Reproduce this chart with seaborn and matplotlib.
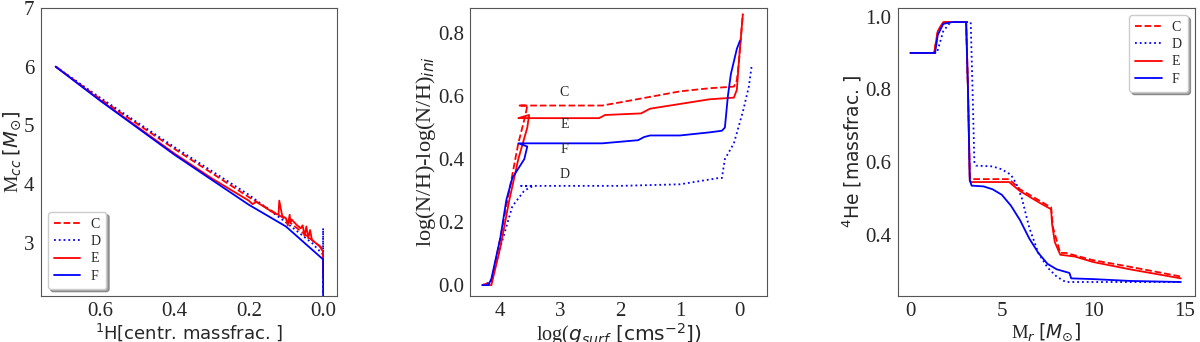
import numpy as np
import matplotlib
matplotlib.use('Agg')
import matplotlib.pyplot as plt
import seaborn as sns

# Panel 1: convective core mass vs central H
h_C = [0.72, 0.6, 0.4, 0.2, 0.1, 0.05, 0.0, 0.0]
m_C = [6.0, 5.45, 4.6, 3.78, 3.4, 3.15, 2.9, 2.5]
h_D = [0.72, 0.6, 0.4, 0.2, 0.1, 0.03, 0.0, 0.0, 0.0]
m_D = [6.0, 5.47, 4.63, 3.82, 3.35, 3.0, 2.8, 3.25, 2.1]
h_E = [0.72, 0.6, 0.4, 0.3, 0.2, 0.19, 0.18, 0.13, 0.12, 0.118, 0.11, 0.1, 0.095, 0.09,
       0.088, 0.085, 0.07, 0.06, 0.055, 0.05, 0.045, 0.04, 0.035, 0.03, 0.02, 0.01, 0.0, 0.0]
m_E = [6.0, 5.43, 4.52, 4.1, 3.72, 3.66, 3.7, 3.5, 3.48, 3.72, 3.46, 3.42, 3.3, 3.48,
       3.35, 3.4, 3.3, 3.25, 3.3, 3.12, 3.28, 3.08, 3.22, 3.05, 3.0, 2.95, 2.85, 2.4]
h_F = [0.72, 0.6, 0.4, 0.2, 0.1, 0.05, 0.0, 0.0]
m_F = [6.0, 5.42, 4.5, 3.65, 3.28, 3.0, 2.72, 2.1]

# Panel 2: N/H enrichment vs log g
g_C = [4.3, 4.15, 4.0, 3.85, 3.7, 3.58, 3.55, 3.7, 2.3, 2.0, 1.0, 0.5, 0.1, 0.05, 0.02, -0.05]
n_C = [0.0, 0.01, 0.15, 0.3, 0.45, 0.54, 0.57, 0.57, 0.57, 0.58, 0.615, 0.625, 0.63, 0.65, 0.7, 0.86]
g_D = [4.3, 4.15, 4.0, 3.8, 3.6, 3.45, 3.65, 2.0, 1.0, 0.35, 0.3, 0.25, 0.1, -0.05, -0.15, -0.2]
n_D = [0.0, 0.01, 0.12, 0.25, 0.3, 0.315, 0.315, 0.315, 0.32, 0.34, 0.34, 0.4, 0.45, 0.55, 0.63, 0.7]
g_E = [4.3, 4.15, 4.0, 3.85, 3.7, 3.55, 3.52, 3.7, 2.35, 2.25, 1.65, 1.5, 1.0, 0.5, 0.1, 0.05, 0.02, 0.0, -0.05]
n_E = [0.0, 0.0, 0.12, 0.27, 0.4, 0.5, 0.54, 0.53, 0.53, 0.54, 0.545, 0.56, 0.575, 0.59, 0.595, 0.62, 0.7, 0.75, 0.86]
g_F = [4.3, 4.2, 4.15, 4.0, 3.9, 3.8, 3.6, 3.55, 3.7, 2.3, 1.7, 1.6, 1.5, 1.0, 0.5, 0.3, 0.25, 0.2, 0.15, 0.05, 0.0]
n_F = [0.0, 0.0, 0.02, 0.15, 0.27, 0.34, 0.4, 0.44, 0.45, 0.45, 0.46, 0.47, 0.475, 0.475, 0.485, 0.49, 0.5, 0.6, 0.67, 0.75, 0.775]

# Panel 3: He4 profile vs mass coordinate
r_C = [0, 1.3, 1.5, 1.8, 3.05, 3.15, 3.25, 3.3, 5.4, 6.0, 7.7, 7.8, 8.2, 8.5, 10, 12, 14.8]
he_C = [0.9, 0.9, 0.96, 0.985, 0.985, 0.8, 0.56, 0.553, 0.553, 0.525, 0.475, 0.42, 0.35, 0.35, 0.33, 0.312, 0.285]
r_D = [0, 1.45, 1.8, 2.2, 3.3, 3.4, 3.5, 3.6, 4.5, 5.0, 5.5, 5.8, 6.1, 6.5, 7.0, 7.5, 8.0, 8.5, 14.8]
he_D = [0.9, 0.9, 0.96, 0.985, 0.985, 0.8, 0.6, 0.59, 0.588, 0.58, 0.565, 0.54, 0.5, 0.42, 0.35, 0.31, 0.285, 0.27, 0.27]
r_E = [0, 1.3, 1.5, 1.8, 3.05, 3.15, 3.25, 3.3, 5.4, 6.0, 7.0, 7.7, 7.75, 7.9, 8.2, 9, 10, 12, 14.8]
he_E = [0.9, 0.9, 0.96, 0.985, 0.985, 0.8, 0.55, 0.545, 0.545, 0.52, 0.49, 0.47, 0.43, 0.38, 0.345, 0.34, 0.325, 0.305, 0.28]
r_F = [0, 1.35, 1.5, 1.8, 2.3, 3.05, 3.15, 3.25, 3.35, 4.0, 4.5, 5.0, 5.5, 6.0, 6.5, 7.0, 7.5, 8.0, 8.7, 8.8, 10, 12, 14.8]
he_F = [0.9, 0.9, 0.95, 0.98, 0.985, 0.985, 0.8, 0.55, 0.535, 0.533, 0.525, 0.51, 0.48, 0.44, 0.39, 0.35, 0.32, 0.305, 0.295, 0.28, 0.278, 0.273, 0.27]

models = ['C', 'D', 'E', 'F']
colors = {'C': 'red', 'D': 'blue', 'E': 'red', 'F': 'blue'}
styles = {'C': '--', 'D': ':', 'E': '-', 'F': '-'}

sns.set_style('white')
plt.rcParams['font.family'] = ['Liberation Serif', 'DejaVu Serif']
plt.rcParams['mathtext.fontset'] = 'dejavusans'

fig = plt.figure(figsize=(12, 3.42), dpi=100)
ax1 = fig.add_axes([0.034, 0.135, 0.247, 0.842])
ax2 = fig.add_axes([0.392, 0.135, 0.247, 0.842])
ax3 = fig.add_axes([0.748, 0.135, 0.2475, 0.842])

data1 = {'C': (h_C, m_C), 'D': (h_D, m_D), 'E': (h_E, m_E), 'F': (h_F, m_F)}
data2 = {'C': (g_C, n_C), 'D': (g_D, n_D), 'E': (g_E, n_E), 'F': (g_F, n_F)}
data3 = {'C': (r_C, he_C), 'D': (r_D, he_D), 'E': (r_E, he_E), 'F': (r_F, he_F)}

for ax, data in [(ax1, data1), (ax2, data2), (ax3, data3)]:
    for m in models:
        x, y = data[m]
        sns.lineplot(x=x, y=y, ax=ax, sort=False, estimator=None, color=colors[m],
                     linestyle=styles[m], linewidth=1.3, label=m)
    for s in ax.spines.values():
        s.set_color('#555555')
    ax.tick_params(axis='both', labelsize=15, direction='out', length=3, pad=1.5,
                   color='#555555', width=0.8)

leg_kw = dict(fontsize=10, fancybox=True, shadow=True, handlelength=1.9,
              handletextpad=0.7, labelspacing=0.3, borderpad=0.45)

# panel 1
ax1.set_xlim(0.76, -0.038)
ax1.set_ylim(2.1, 7)
ax1.set_xticks([0.6, 0.4, 0.2, 0.0])
ax1.set_yticks([3, 4, 5, 6, 7])
ax1.set_xlabel(r'$^1$H[centr. massfrac. ]', fontsize=13, family='DejaVu Sans', labelpad=0)
ax1.set_ylabel(r'M$_{cc}$ $[M_{\odot}]$', fontsize=14, labelpad=1)
ax1.legend(loc='lower left', **leg_kw)

# panel 2
ax2.set_xlim(4.5, -0.45)
ax2.set_ylim(-0.034, 0.88)
ax2.set_xticks([4, 3, 2, 1, 0])
ax2.set_yticks([0.0, 0.2, 0.4, 0.6, 0.8])
ax2.set_xlabel(r'log($g_{surf}\ [\mathrm{cms}^{-2}])$', fontsize=14.5, labelpad=0)
ax2.set_ylabel(r'log(N/H)-log(N/H)$_{ini}$', fontsize=16, labelpad=0)
ax2.get_legend().remove()
for lab, yv in [('C', 0.61), ('E', 0.511), ('F', 0.429), ('D', 0.35)]:
    ax2.text(2.93, yv, lab, fontsize=10, ha='center', va='center')

# panel 3
ax3.set_xlim(-0.7, 15.55)
ax3.set_ylim(0.232, 1.024)
ax3.set_xticks([0, 5, 10, 15])
ax3.set_yticks([0.4, 0.6, 0.8, 1.0])
ax3.set_xlabel(r'M$_r$ $[M_{\odot}]$', fontsize=13.5, labelpad=0)
ax3.set_ylabel(r'$^4$He [massfrac. ]', fontsize=13.5, family='DejaVu Sans', labelpad=1)
ax3.legend(loc='upper right', **leg_kw)

fig.savefig('out.png', dpi=100)
